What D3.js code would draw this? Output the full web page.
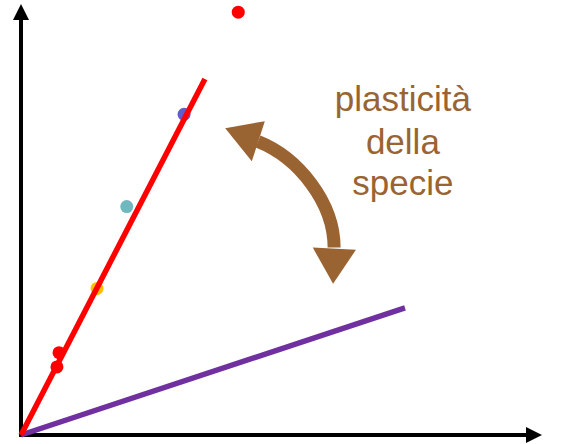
<!DOCTYPE html>
<html>
<head>
<meta charset="utf-8">
<script src="https://cdn.jsdelivr.net/npm/d3@7"></script>
<style>
  html, body { margin: 0; padding: 0; background: #fff; }
  svg { display: block; }
</style>
</head>
<body>
<script>
// ---- data (abstract units 0..100 on both axes) ----
const pointX      = [41.7, 31.3, 20.3, 14.6, 7.3, 6.9];
const pointY      = [98.1, 74.4, 53.0, 34.0, 19.1, 15.8];
const pointColors = ["#ff0000", "#5f5fcc", "#6fb8c0", "#ffc000", "#ff0000", "#ff0000"];

const lineNames   = ["specie A", "specie B"];
const lineEndX    = [35.3, 73.7];
const lineEndY    = [82.6, 29.5];
const lineColors  = ["#ff0000", "#7030a0"];

const labelLines  = ["plasticità", "della", "specie"];
const labelX      = 73.3;
const labelY      = [75.1, 65.3, 55.6];

// curved double arrow (annotation), in data units
const arrowShaft  = [[45.5, 68.1], [53.2, 64.4], [60.1, 54.0], [60.1, 43.5]];
const arrowHeadA  = [[39.2, 71.2], [46.8, 72.8], [44.3, 63.5]];
const arrowHeadB  = [[59.9, 35.1], [56.0, 43.5], [64.3, 43.0]];

// ---- layout ----
const W = 567, H = 444;
const svg = d3.select("body").append("svg").attr("width", W).attr("height", H);

const x = d3.scaleLinear().domain([0, 100]).range([21, 542]);
const y = d3.scaleLinear().domain([0, 100]).range([435, 4]);

const brown = "#9a6432";

// axes
const ax = svg.append("g");
ax.append("line")
  .attr("x1", x(0)).attr("y1", y(0) + 2)
  .attr("x2", x(0)).attr("y2", y(100) + 15)
  .attr("stroke", "#000").attr("stroke-width", 4);
ax.append("path")
  .attr("d", `M${x(0)},${y(100)} L${x(0) - 8},${y(100) + 16} L${x(0) + 8},${y(100) + 16} Z`)
  .attr("fill", "#000");
ax.append("line")
  .attr("x1", x(0) - 2).attr("y1", y(0))
  .attr("x2", x(100) - 15).attr("y2", y(0))
  .attr("stroke", "#000").attr("stroke-width", 4);
ax.append("path")
  .attr("d", `M${x(100)},${y(0)} L${x(100) - 16},${y(0) - 8} L${x(100) - 16},${y(0) + 8} Z`)
  .attr("fill", "#000");

// points (behind the lines)
svg.append("g").selectAll("circle")
  .data(pointX.map((v, i) => ({ x: v, y: pointY[i], c: pointColors[i] })))
  .join("circle")
  .attr("cx", d => x(d.x)).attr("cy", d => y(d.y))
  .attr("r", 6.5)
  .attr("fill", d => d.c);

// lines (purple first, red on top)
const lines = lineNames.map((n, i) => ({ n, ex: lineEndX[i], ey: lineEndY[i], c: lineColors[i] }));
svg.append("g").selectAll("line")
  .data(lines.slice().reverse())
  .join("line")
  .attr("x1", x(0)).attr("y1", y(0))
  .attr("x2", d => x(d.ex)).attr("y2", d => y(d.ey))
  .attr("stroke", d => d.c).attr("stroke-width", 5.5);

// curved double arrow
const s = arrowShaft.map(p => [x(p[0]), y(p[1])]);
svg.append("path")
  .attr("d", `M${s[0]} C${s[1]} ${s[2]} ${s[3]}`)
  .attr("fill", "none").attr("stroke", brown).attr("stroke-width", 13);
[arrowHeadA, arrowHeadB].forEach(h => {
  svg.append("path")
    .attr("d", "M" + h.map(p => [x(p[0]), y(p[1])].join(",")).join("L") + "Z")
    .attr("fill", brown);
});

// label
svg.append("g").selectAll("text")
  .data(labelLines)
  .join("text")
  .attr("x", x(labelX))
  .attr("y", (d, i) => y(labelY[i]))
  .attr("text-anchor", "middle")
  .attr("font-family", "'Liberation Sans', Arial, sans-serif")
  .attr("font-size", 35)
  .attr("fill", brown)
  .text(d => d);
</script>
</body>
</html>
